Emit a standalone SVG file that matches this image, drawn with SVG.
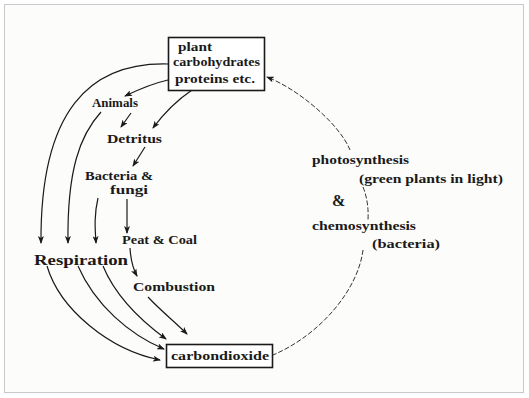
<svg xmlns="http://www.w3.org/2000/svg" width="529" height="398" viewBox="0 0 529 398">
<defs>
<marker id="ah" markerWidth="8" markerHeight="6" refX="7" refY="3" orient="auto" markerUnits="userSpaceOnUse">
<path d="M0,0 L8,3 L0,6 L2,3 Z" fill="#1a1a1a"/>
</marker>
<style>
.t{font-family:"Liberation Serif","DejaVu Serif",serif;font-weight:bold;font-size:12px;fill:#1a1a1a}
.big{font-size:14px}
.amp{font-size:16px}
.c{fill:none;stroke:#1a1a1a;stroke-width:1.2}
.r{fill:none;stroke:#333;stroke-width:1;stroke-dasharray:5 2}
.b{fill:#fff;stroke:#1a1a1a;stroke-width:1.6}
</style>
</defs>
<rect x="0" y="0" width="529" height="398" fill="#fff"/>
<rect x="4.5" y="4.5" width="519" height="388" fill="#fcfcfb" stroke="#c8c8c8" stroke-width="1"/>
<g id="connectors">
<path class="r" d="M350,150 C340,125 300,90 267,77" marker-end="url(#ah)"/>
<path class="r" d="M363,187 Q369,202 368,220"/>
<path class="r" d="M363,250 C358,290 320,335 273,355"/>
<path class="c" d="M168,64 C90,62 40,110 41,243" marker-end="url(#ah)"/>
<path class="c" d="M101,112 C80,135 67,170 68,243" marker-end="url(#ah)"/>
<path class="c" d="M98,198 C94,215 95,228 96,243" marker-end="url(#ah)"/>
<path class="c" d="M127,199 L127,233" marker-end="url(#ah)"/>
<path class="c" d="M168,80 Q150,84 125,96" marker-end="url(#ah)"/>
<path class="c" d="M131,113 L121,127" marker-end="url(#ah)"/>
<path class="c" d="M192,90 Q170,105 153,128" marker-end="url(#ah)"/>
<path class="c" d="M145,147 L133,166" marker-end="url(#ah)"/>
<path class="c" d="M130,248 Q131,265 137,276" marker-end="url(#ah)"/>
<path class="c" d="M47,266 C60,310 110,350 160,360" marker-end="url(#ah)"/>
<path class="c" d="M78,266 C95,305 130,335 164,349" marker-end="url(#ah)"/>
<path class="c" d="M103,266 C115,295 140,320 166,339" marker-end="url(#ah)"/>
<path class="c" d="M148,297 C160,310 175,322 187,334" marker-end="url(#ah)"/>
</g>
<g id="plant">
<rect class="b" x="168.5" y="37.5" width="96" height="53"/>
<text class="t" x="178" y="51" textLength="34" lengthAdjust="spacingAndGlyphs">plant</text>
<text class="t" x="173" y="66" textLength="87" lengthAdjust="spacingAndGlyphs">carbohydrates</text>
<text class="t" x="175" y="83" textLength="80" lengthAdjust="spacingAndGlyphs">proteins etc.</text>
</g>
<g id="co2">
<rect class="b" x="166.5" y="344.5" width="106" height="23"/>
<text class="t" x="171" y="360" textLength="98" lengthAdjust="spacingAndGlyphs">carbondioxide</text>
</g>
<g id="animals"><text class="t" x="92" y="107" textLength="46" lengthAdjust="spacingAndGlyphs">Animals</text></g>
<g id="detritus"><text class="t" x="107" y="143" textLength="55" lengthAdjust="spacingAndGlyphs">Detritus</text></g>
<g id="bacteria">
<text class="t" x="85" y="180" textLength="68" lengthAdjust="spacingAndGlyphs">Bacteria &amp;</text>
<text class="t" x="110" y="194" textLength="38" lengthAdjust="spacingAndGlyphs">fungi</text>
</g>
<g id="peat"><text class="t" x="122" y="244" textLength="75" lengthAdjust="spacingAndGlyphs">Peat &amp; Coal</text></g>
<g id="respiration"><text class="t big" x="34" y="265" textLength="94" lengthAdjust="spacingAndGlyphs">Respiration</text></g>
<g id="combustion"><text class="t" x="133" y="291" textLength="82" lengthAdjust="spacingAndGlyphs">Combustion</text></g>
<g id="photosynthesis">
<text class="t" x="312" y="164" textLength="97" lengthAdjust="spacingAndGlyphs">photosynthesis</text>
<text class="t" x="359" y="183" textLength="144" lengthAdjust="spacingAndGlyphs">(green plants in light)</text>
<text class="t amp" x="332" y="206">&amp;</text>
<text class="t" x="312" y="230" textLength="104" lengthAdjust="spacingAndGlyphs">chemosynthesis</text>
<text class="t" x="372" y="248" textLength="68" lengthAdjust="spacingAndGlyphs">(bacteria)</text>
</g>
</svg>
